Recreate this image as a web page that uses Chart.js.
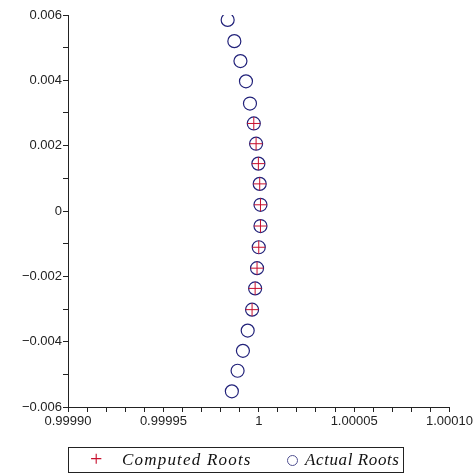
<!DOCTYPE html>
<html>
<head>
<meta charset="utf-8">
<script src="https://cdn.jsdelivr.net/npm/chart.js@4"></script>
<style>
  body { margin: 0; background: #fff; }
  #wrap { position: relative; width: 475px; height: 476px; }
  .legend { position: absolute; left: 68px; top: 447px; width: 334px; height: 24px;
            border: 1px solid #222; font-family: "Liberation Serif", serif; font-style: italic;
            font-size: 17px; letter-spacing: 0.6px; color: #111; }
  .legend span { position: absolute; top: 2px; }
  .cross { color: #c8102e; font-style: normal; font-size: 22px; font-weight: 300; top: -2px !important; letter-spacing: 0; }
  .ring { width: 9px; height: 9px; border: 1.2px solid #505090; border-radius: 50%; top: 7px !important; }
</style>
</head>
<body>
<div id="wrap">
  <canvas class="roots-canvas" width="475" height="476"></canvas>
  <div class="legend">
    <span class="cross" style="left:21px">+</span>
    <span style="left:53px; letter-spacing:1.2px">Computed Roots</span>
    <span class="ring" style="left:218px"></span>
    <span style="left:236px">Actual Roots</span>
  </div>
</div>
<script>
const rootsCanvas = document.querySelector(".roots-canvas")

// actual roots (circles)
const actualX = [0.9999837, 0.9999872, 0.9999904, 0.9999933, 0.9999954, 0.9999974, 0.9999986, 0.9999998,
  1.0000005, 1.0000009, 1.0000009, 1.0000000, 0.9999991, 0.9999981, 0.9999965, 0.9999942,
  0.9999917, 0.9999889, 0.9999859];
const actualY = [0.00585, 0.00520, 0.00459, 0.00397, 0.00329, 0.00268, 0.00206, 0.00145,
  0.00083, 0.00019, -0.00046, -0.00111, -0.00175, -0.00237, -0.00302, -0.00366,
  -0.00428, -0.00489, -0.00552];

// computed roots (crosses)
const computedX = [0.9999974, 0.9999986, 0.9999998, 1.0000005, 1.0000009, 1.0000009, 1.0000000,
  0.9999991, 0.9999981, 0.9999965];
const computedY = [0.00268, 0.00206, 0.00145, 0.00083, 0.00019, -0.00046, -0.00111,
  -0.00175, -0.00237, -0.00302];

const xTickLabels = ["0.99990", "0.99995", "1", "1.00005", "1.00010"];
const yTickLabels = ["\u22120.006", "\u22120.004", "\u22120.002", "0", "0.002", "0.004", "0.006"];

function toPoints(xs, ys) {
  const pts = [];
  for (let i = 0; i < xs.length; i++) {
    pts.push({ x: xs[i], y: ys[i] });
  }
  return pts;
}

new Chart(rootsCanvas, {
  type: 'scatter',
  data: {
    datasets: [
      {
        label: "Computed Roots",
        data: toPoints(computedX, computedY),
        pointStyle: 'cross',
        pointRadius: 6.5,
        borderColor: '#c8102e',
        backgroundColor: '#c8102e',
        pointBorderWidth: 1
      },
      {
        label: "Actual Roots",
        data: toPoints(actualX, actualY),
        pointStyle: 'circle',
        pointRadius: 6.5,
        borderColor: '#22227a',
        backgroundColor: 'rgba(0,0,0,0)',
        pointBorderWidth: 1.2
      }
    ]
  },
  options: {
    responsive: false,
    animation: false,
    layout: { padding: { top: 15, right: 20, left: 0, bottom: 0 } },
    plugins: {
      legend: { display: false },
      tooltip: { enabled: false }
    },
    scales: {
      x: {
        type: 'linear',
        min: 0.9999,
        max: 1.0001,
        border: { display: true, color: '#222', width: 1 },
        grid: { display: true, drawOnChartArea: false, drawTicks: true, tickLength: 5, color: '#222' },
        ticks: {
          stepSize: 0.00001,
          autoSkip: false,
          maxRotation: 0,
          padding: 2,
          color: '#222',
          font: { family: 'Liberation Sans', size: 13 },
          callback: function (v) {
            const k = Math.round((v - 0.9999) / 0.00001);
            return k % 5 === 0 ? xTickLabels[k / 5] : '';
          }
        },
        afterFit: function (scale) { scale.height = 69; }
      },
      y: {
        type: 'linear',
        min: -0.006,
        max: 0.006,
        border: { display: true, color: '#222', width: 1 },
        grid: { display: true, drawOnChartArea: false, drawTicks: true, tickLength: 5, color: '#222' },
        ticks: {
          stepSize: 0.001,
          autoSkip: false,
          padding: 1,
          color: '#222',
          font: { family: 'Liberation Sans', size: 13 },
          callback: function (v) {
            const k = Math.round((v + 0.006) / 0.001);
            return k % 2 === 0 ? yTickLabels[k / 2] : '';
          }
        },
        afterFit: function (scale) { scale.width = 68; }
      }
    }
  }
});
</script>
</body>
</html>
